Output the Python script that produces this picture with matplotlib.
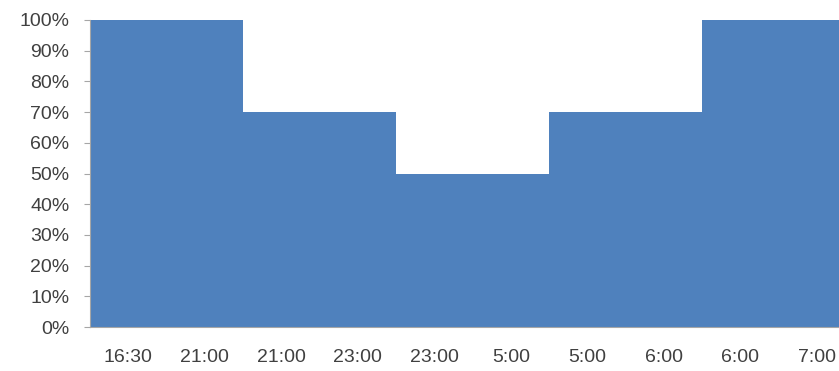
import matplotlib
matplotlib.use("Agg")
import matplotlib.pyplot as plt
import numpy as np
from matplotlib.ticker import PercentFormatter

categories = ["16:30", "21:00", "21:00", "23:00", "23:00", "5:00", "5:00", "6:00", "6:00", "7:00"]
values = [1.0, 1.0, 0.7, 0.7, 0.5, 0.5, 0.7, 0.7, 1.0, 1.0]
y_ticks = [0, 0.1, 0.2, 0.3, 0.4, 0.5, 0.6, 0.7, 0.8, 0.9, 1.0]

plt.rcParams['font.family'] = ['Liberation Sans', 'DejaVu Sans']

fig = plt.figure(figsize=(8.39, 3.71), dpi=100)
ax = fig.add_axes([90/839, (371-327)/371, (839-90)/839, 307/371])

x = np.arange(len(categories))
edges = np.arange(len(categories) + 1) - 0.5
ax.stairs(values, edges, fill=True, color='#4F81BD', linewidth=0)

ax.set_xlim(-0.5, -0.5 + (839-90)/76.5)
ax.set_ylim(0, 1.0)
ax.set_yticks(y_ticks)
ax.yaxis.set_major_formatter(PercentFormatter(1.0, decimals=0))
ax.set_xticks(x)
ax.set_xticklabels(categories)

for s in ['top', 'right']:
    ax.spines[s].set_visible(False)
ax.spines['left'].set_color('#A6A6A6')
ax.spines['bottom'].set_color('#A6A6A6')
ax.spines['left'].set_linewidth(0.8)
ax.spines['bottom'].set_linewidth(0.8)

ax.tick_params(axis='y', length=4.3, color='#A6A6A6', labelsize=14, labelcolor='#404040', pad=10.5)
ax.tick_params(axis='x', length=0, labelsize=14, labelcolor='#404040', pad=16)

fig.savefig("out.png", dpi=100)
